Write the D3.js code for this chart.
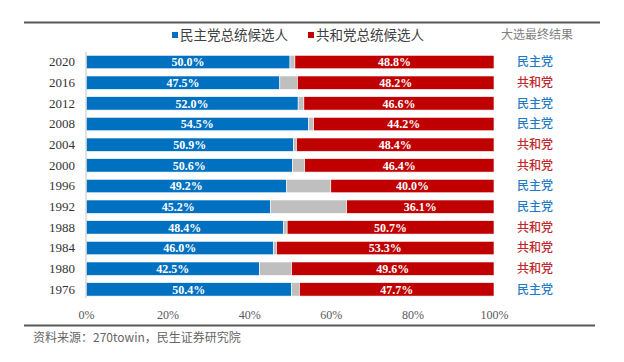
<!DOCTYPE html>
<html><head><meta charset="utf-8">
<script src="https://cdn.jsdelivr.net/npm/d3@7/dist/d3.min.js"></script>
<style>body{margin:0;background:#fff}</style>
</head><body>
<svg id="c" width="624" height="362"></svg>
<script>
const years = ["2020","2016","2012","2008","2004","2000","1996","1992","1988","1984","1980","1976"];
const demValues = [50.0,47.5,52.0,54.5,50.9,50.6,49.2,45.2,48.4,46.0,42.5,50.4];
const repValues = [48.8,48.2,46.6,44.2,48.4,46.4,40.0,36.1,50.7,53.3,49.6,47.7];
const winners = ["民主党","共和党","民主党","民主党","共和党","共和党","民主党","民主党","共和党","共和党","共和党","民主党"];
const xTicks = [0,20,40,60,80,100];
const seriesNames = ["民主党总统候选人","共和党总统候选人"];
const resultTitle = "大选最终结果";
const sourceText = "资料来源：270towin，民生证券研究院";

const BLUE="#0070C0", RED="#C00000", GRAY="#BFBFBF";
const svg = d3.select("#c");
const x = d3.scaleLinear().domain([0,100]).range([86,494]);
const y = d3.scaleBand().domain(years).range([51.7,299.7]).paddingInner(0.35).paddingOuter(0.175);

// top & bottom rules
svg.append("line").attr("x1",24).attr("x2",600).attr("y1",22.5).attr("y2",22.5).attr("stroke","#595959").attr("stroke-width",2);
svg.append("line").attr("x1",24).attr("x2",595).attr("y1",325.5).attr("y2",325.5).attr("stroke","#595959").attr("stroke-width",2);

const rows = years.map((yr,i)=>({yr, d:demValues[i], r:repValues[i], w:winners[i]}));
const g = svg.append("g");
rows.forEach(row=>{
  const yy = y(row.yr), h = y.bandwidth();
  const segs = [
    {x0:0, x1:row.d, c:BLUE, label:row.d.toFixed(1)+"%"},
    {x0:row.d, x1:100-row.r, c:GRAY, label:null},
    {x0:100-row.r, x1:100, c:RED, label:row.r.toFixed(1)+"%"}
  ];
  segs.forEach(s=>{
    g.append("rect").attr("x",x(s.x0)).attr("y",yy).attr("width",x(s.x1)-x(s.x0)).attr("height",h)
      .attr("fill",s.c).attr("stroke","#fff").attr("stroke-width",0.6);
    if(s.label){
      g.append("text").attr("x",(x(s.x0)+x(s.x1))/2).attr("y",yy+h/2).attr("dy","0.36em")
        .attr("text-anchor","middle").attr("fill","#fff").attr("font-weight","bold")
        .attr("font-family","'Liberation Serif',serif").attr("font-size",12).text(s.label);
    }
  });
  g.append("text").attr("x",517).attr("y",yy+h/2).attr("dy","0.36em")
    .attr("fill", row.w==="民主党" ? "#1F7BC6" : "#C0262B")
    .attr("font-family","'Noto Sans CJK SC',sans-serif").attr("font-size",12).attr("font-weight",500)
    .text(row.w);
});

// y axis
const yAxis = svg.append("g").attr("transform","translate(86,0)").call(d3.axisLeft(y).tickSize(0).tickPadding(11));
yAxis.select(".domain").attr("stroke","#D9D9D9").attr("stroke-width",1.5).attr("d","M0,52V298");
yAxis.selectAll("text").attr("font-family","'Liberation Serif',serif").attr("font-size",13).attr("fill","#333");

// x axis
const xAxis = svg.append("g").attr("transform","translate(0,300)").call(d3.axisBottom(x).tickValues(xTicks).tickFormat(d=>d+"%").tickSize(0).tickPadding(10));
xAxis.select(".domain").remove();
xAxis.selectAll("text").attr("font-family","'Liberation Serif',serif").attr("font-size",12).attr("fill","#595959");

// legend
const leg = svg.append("g");
[{n:seriesNames[0],c:BLUE,x:172},{n:seriesNames[1],c:RED,x:308}].forEach(l=>{
  leg.append("rect").attr("x",l.x).attr("y",32).attr("width",6).attr("height",6).attr("fill",l.c);
  leg.append("text").attr("x",l.x+8).attr("y",35).attr("dy","0.36em").attr("font-family","'Noto Sans CJK SC',sans-serif")
    .attr("font-size",13.5).attr("fill","#404040").text(l.n);
});
svg.append("text").attr("x",501).attr("y",35).attr("dy","0.36em").attr("font-family","'Noto Sans CJK SC',sans-serif")
  .attr("font-size",12).attr("fill","#7F7F7F").text(resultTitle);

svg.append("text").attr("x",33).attr("y",338).attr("dy","0.36em").attr("font-family","'Noto Sans CJK SC',sans-serif")
  .attr("font-size",12).attr("fill","#666").text(sourceText);
</script>
</body></html>
